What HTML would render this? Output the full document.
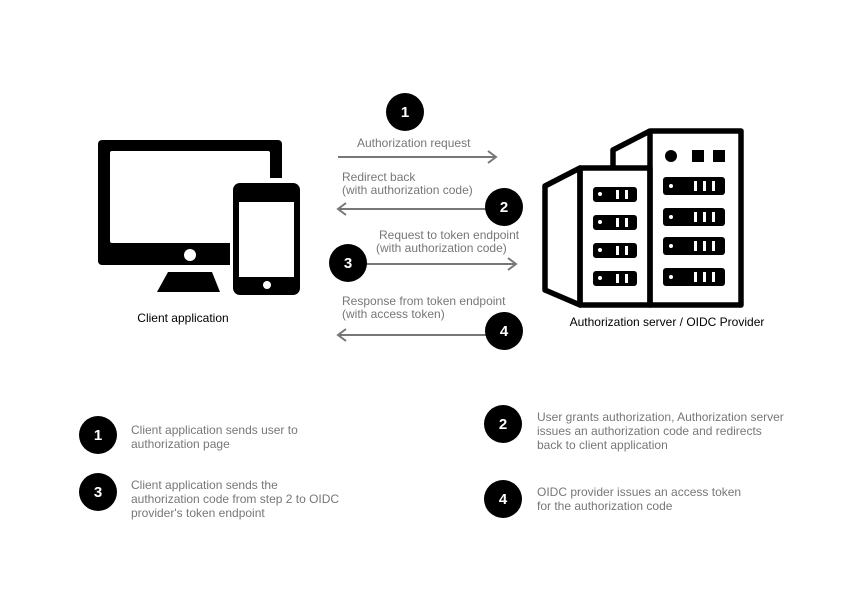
<!DOCTYPE html>
<html><head><style>body{margin:0;background:#fff}</style></head><body>
<svg width="842" height="595" viewBox="0 0 842 595" xmlns="http://www.w3.org/2000/svg" font-family="Liberation Sans, sans-serif">
<rect width="842" height="595" fill="#fff"/>
<!-- monitor -->
<rect x="98" y="140" width="184" height="125" rx="4" fill="#000"/>
<rect x="110" y="151" width="160" height="92" rx="2" fill="#fff"/>
<circle cx="190" cy="255" r="6" fill="#fff"/>
<path d="M168 272 H212 L220 292 H157 Z" fill="#000"/>
<!-- phone -->
<rect x="230" y="178" width="74" height="122" rx="10" fill="#fff"/>
<rect x="233" y="183" width="67" height="112" rx="7" fill="#000"/>
<rect x="239" y="202" width="55" height="75" fill="#fff"/>
<circle cx="267" cy="285" r="4" fill="#fff"/>
<text x="183" y="322" font-size="12" text-anchor="middle" fill="#000">Client application</text>
<!-- server -->
<g fill="none" stroke="#000" stroke-width="5.5" stroke-linejoin="round">
<path d="M545 186 L580 168 L580 305 L545 290 Z"/>
<rect x="580" y="168" width="70" height="137"/>
<path d="M613 168 V150 L650 131"/>
<rect x="650" y="131" width="91" height="174"/>
</g>
<g fill="#000">
<circle cx="671" cy="156" r="6"/>
<rect x="692" y="150" width="12" height="12"/><rect x="713" y="150" width="12" height="12"/>
<rect x="663" y="177" width="62" height="18" rx="3"/><rect x="663" y="208" width="62" height="18" rx="3"/>
<rect x="663" y="237" width="62" height="18" rx="3"/><rect x="663" y="268" width="62" height="18" rx="3"/>
<rect x="593" y="187" width="44" height="15" rx="3"/><rect x="593" y="215" width="44" height="15" rx="3"/>
<rect x="593" y="243" width="44" height="15" rx="3"/><rect x="593" y="271" width="44" height="15" rx="3"/>
</g>
<g fill="#fff">
<circle cx="671" cy="186" r="2"/><rect x="694" y="181" width="3" height="10"/><rect x="703" y="181" width="3" height="10"/><rect x="712" y="181" width="3" height="10"/>
<circle cx="671" cy="217" r="2"/><rect x="694" y="212" width="3" height="10"/><rect x="703" y="212" width="3" height="10"/><rect x="712" y="212" width="3" height="10"/>
<circle cx="671" cy="246" r="2"/><rect x="694" y="241" width="3" height="10"/><rect x="703" y="241" width="3" height="10"/><rect x="712" y="241" width="3" height="10"/>
<circle cx="671" cy="277" r="2"/><rect x="694" y="272" width="3" height="10"/><rect x="703" y="272" width="3" height="10"/><rect x="712" y="272" width="3" height="10"/>
<circle cx="600" cy="194" r="2"/><rect x="616" y="190" width="3" height="9"/><rect x="625" y="190" width="3" height="9"/>
<circle cx="600" cy="222" r="2"/><rect x="616" y="218" width="3" height="9"/><rect x="625" y="218" width="3" height="9"/>
<circle cx="600" cy="250" r="2"/><rect x="616" y="246" width="3" height="9"/><rect x="625" y="246" width="3" height="9"/>
<circle cx="600" cy="278" r="2"/><rect x="616" y="274" width="3" height="9"/><rect x="625" y="274" width="3" height="9"/>
</g>
<text x="667" y="326" font-size="12" text-anchor="middle" fill="#000">Authorization server / OIDC Provider</text>
<!-- arrows -->
<g stroke="#777" stroke-width="2" fill="none">
<path d="M338 157 H496 M488 151 L496 157 L488 163"/>
<path d="M338 209 H490 M346 203 L338 209 L346 215"/>
<path d="M365 264 H516 M508 258 L516 264 L508 270"/>
<path d="M338 335 H490 M346 329 L338 335 L346 341"/>
</g>
<g fill="#777" font-size="12">
<text x="357" y="147">Authorization request</text>
<text x="342" y="181">Redirect back</text>
<text x="342" y="194">(with authorization code)</text>
<text x="379" y="239">Request to token endpoint</text>
<text x="376" y="252">(with authorization code)</text>
<text x="342" y="305">Response from token endpoint</text>
<text x="342" y="318">(with access token)</text>
</g>
<g fill="#000">
<circle cx="405" cy="112" r="19"/><circle cx="504" cy="207" r="19"/><circle cx="348" cy="263" r="19"/><circle cx="504" cy="331" r="19"/>
<circle cx="98" cy="435" r="19"/><circle cx="98" cy="492" r="19"/><circle cx="503" cy="424" r="19"/><circle cx="503" cy="499" r="19"/>
</g>
<g fill="#fff" font-size="15" font-weight="bold" text-anchor="middle">
<text x="405" y="117">1</text><text x="504" y="212">2</text><text x="348" y="268">3</text><text x="504" y="336">4</text>
<text x="98" y="440">1</text><text x="98" y="497">3</text><text x="503" y="429">2</text><text x="503" y="504">4</text>
</g>
<g fill="#777" font-size="12">
<text x="131" y="434">Client application sends user to</text>
<text x="131" y="448">authorization page</text>
<text x="131" y="489">Client application sends the</text>
<text x="131" y="503">authorization code from step 2 to OIDC</text>
<text x="131" y="517">provider's token endpoint</text>
<text x="537" y="421">User grants authorization, Authorization server</text>
<text x="537" y="435">issues an authorization code and redirects</text>
<text x="537" y="449">back to client application</text>
<text x="537" y="496">OIDC provider issues an access token</text>
<text x="537" y="510">for the authorization code</text>
</g>
</svg>
</body></html>
